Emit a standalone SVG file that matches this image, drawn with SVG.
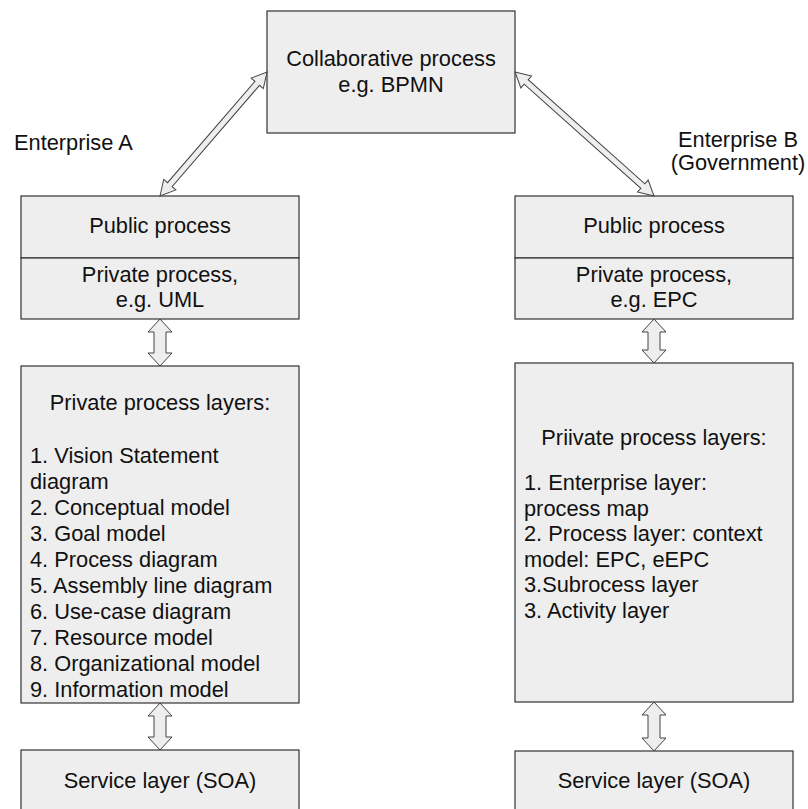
<svg xmlns="http://www.w3.org/2000/svg" width="808" height="809" viewBox="0 0 808 809">
<style>
.box{fill:#eeeeee;stroke:#333333;stroke-width:1.2}
.arr{fill:#eeeeee;stroke:#444444;stroke-width:1}
text{font-family:"Liberation Sans",Arial,sans-serif;font-size:21.8px;fill:#111111}
.c{text-anchor:middle}
</style>
<rect width="808" height="809" fill="#ffffff"/>
<g id="labels">
<text x="14" y="150">Enterprise A</text>
<text class="c" x="738" y="147">Enterprise B</text>
<text class="c" x="738" y="170">(Government)</text>
</g>
<g id="collab">
<rect class="box" x="267" y="11" width="248" height="122"/>
<text class="c" x="391" y="66">Collaborative process</text>
<text class="c" x="391" y="92">e.g. BPMN</text>
</g>
<g id="publicA">
<rect class="box" x="21" y="196" width="278" height="62"/>
<text class="c" x="160" y="233">Public process</text>
</g>
<g id="privateA">
<rect class="box" x="21" y="258" width="278" height="61"/>
<text class="c" x="160" y="282">Private process,</text>
<text class="c" x="160" y="307">e.g. UML</text>
</g>
<g id="layersA">
<rect class="box" x="21" y="366" width="278" height="337"/>
<text class="c" x="160" y="410">Private process layers:</text>
<text x="30" y="463">1. Vision Statement</text>
<text x="30" y="489">diagram</text>
<text x="30" y="515">2. Conceptual model</text>
<text x="30" y="541">3. Goal model</text>
<text x="30" y="567">4. Process diagram</text>
<text x="30" y="593">5. Assembly line diagram</text>
<text x="30" y="619">6. Use-case diagram</text>
<text x="30" y="645">7. Resource model</text>
<text x="30" y="671">8. Organizational model</text>
<text x="30" y="697">9. Information model</text>
</g>
<g id="serviceA">
<rect class="box" x="21" y="750" width="278" height="80"/>
<text class="c" x="160" y="788">Service layer (SOA)</text>
</g>
<g id="publicB">
<rect class="box" x="515" y="196" width="278" height="62"/>
<text class="c" x="654" y="233">Public process</text>
</g>
<g id="privateB">
<rect class="box" x="515" y="258" width="278" height="61"/>
<text class="c" x="654" y="282">Private process,</text>
<text class="c" x="654" y="307">e.g. EPC</text>
</g>
<g id="layersB">
<rect class="box" x="515" y="363" width="278" height="339"/>
<text class="c" x="654" y="445">Priivate process layers:</text>
<text x="524" y="490">1. Enterprise layer:</text>
<text x="524" y="516">process map</text>
<text x="524" y="541">2. Process layer: context</text>
<text x="524" y="567">model: EPC, eEPC</text>
<text x="524" y="592">3.Subrocess layer</text>
<text x="524" y="618">3. Activity layer</text>
</g>
<g id="serviceB">
<rect class="box" x="515" y="751" width="278" height="80"/>
<text class="c" x="654" y="788">Service layer (SOA)</text>
</g>
<g id="connectors">
<polygon class="arr" transform="translate(160,196) rotate(-49.2)" points="0,0 15,-8 15,-3 148.8,-3 148.8,-8 163.8,0 148.8,8 148.8,3 15,3 15,8"/>
<polygon class="arr" transform="translate(515,72) rotate(41.73)" points="0,0 15,-8 15,-3 171.3,-3 171.3,-8 186.3,0 171.3,8 171.3,3 15,3 15,8"/>
<polygon class="arr" points="160,319 172,332 166,332 166,353 172,353 160,366 148,353 154,353 154,332 148,332"/>
<polygon class="arr" points="160,703 172,716 166,716 166,737 172,737 160,750 148,737 154,737 154,716 148,716"/>
<polygon class="arr" points="654,319 666,332 660,332 660,350 666,350 654,363 642,350 648,350 648,332 642,332"/>
<polygon class="arr" points="654,702 666,715 660,715 660,738 666,738 654,751 642,738 648,738 648,715 642,715"/>
</g>
</svg>
